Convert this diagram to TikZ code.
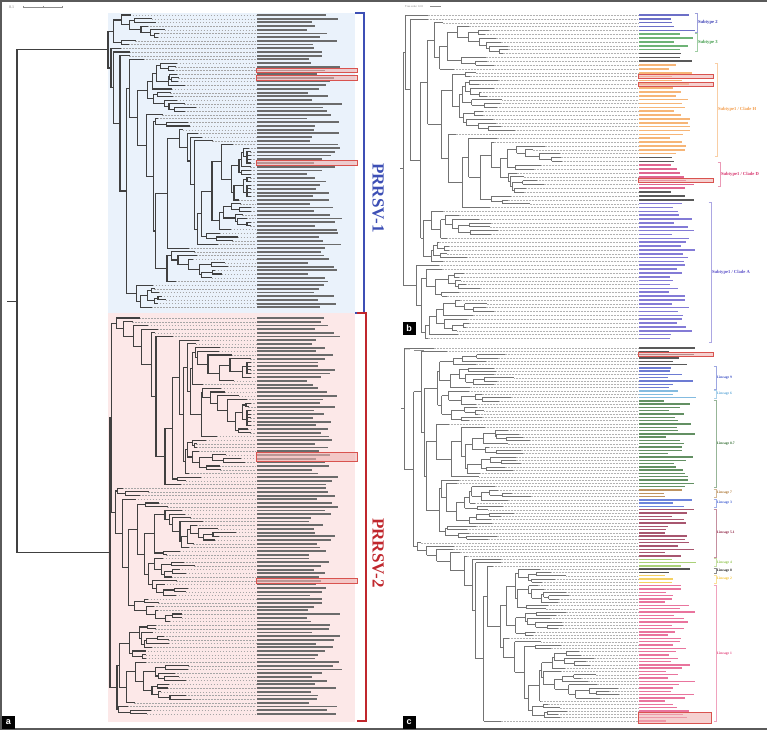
\documentclass[tikz,border=0pt]{standalone}
\usepackage{fontspec}
\setmainfont{Liberation Serif}
\setsansfont{Liberation Sans}
\usepackage{xcolor}
\definecolor{frame700}{HTML}{5A5A5A}
\definecolor{blue50}{HTML}{EAF2FB}
\definecolor{red50}{HTML}{FCE8E8}
\definecolor{prrsvone}{HTML}{3D4FB5}
\definecolor{prrsvtwo}{HTML}{C0272D}
\definecolor{hlred}{HTML}{D9534F}
\definecolor{sub2}{HTML}{3B3FB5}
\definecolor{sub3}{HTML}{3E9A48}
\definecolor{cladeH}{HTML}{F39C4A}
\definecolor{cladeD}{HTML}{D6336C}
\definecolor{cladeA}{HTML}{5A4FC8}
\definecolor{lin9}{HTML}{3B4FC4}
\definecolor{lin6}{HTML}{5AA5D6}
\definecolor{lin87}{HTML}{2F6B2F}
\definecolor{lin7}{HTML}{A8702C}
\definecolor{lin3}{HTML}{3D5BD0}
\definecolor{lin51}{HTML}{8B1E3F}
\definecolor{lin4}{HTML}{8DC24B}
\definecolor{lin8}{HTML}{1A1A1A}
\definecolor{lin2}{HTML}{F2C12E}
\definecolor{lin1}{HTML}{E2457C}
\usepackage{tikz}
\usetikzlibrary{positioning}

% random dendrogram: parent x, node x, first leaf y, last leaf y
\newcommand\treeclade[4]{%
  \begingroup
  \pgfmathtruncatemacro\stN{round((#4-#3)/\rowgap)+1}%
  \ifnum\stN<2\relax
    \draw[leader] (#2,#3) -- (\labelx,#3);
    \draw[branch] (#1,#3) -- (#2,#3);
    \xdef\stRet{#3}%
  \else
    \pgfmathsetmacro\stR{rnd}%
    \pgfmathtruncatemacro\stK{random(1,\stN-1)}%
    \ifdim\stR pt<0.35pt \def\stK{1}\fi
    \ifdim\stR pt>0.9pt \edef\stK{\the\numexpr\stN-1\relax}\fi
    \pgfmathsetmacro\stAend{#3+(\stK-1)*\rowgap}%
    \pgfmathsetmacro\stBbeg{#3+\stK*\rowgap}%
    \edef\stNext{\noexpand\treebranch{#2}{#3}{\stAend}}\stNext
    \let\stYA\stRet
    \edef\stNext{\noexpand\treebranch{#2}{\stBbeg}{#4}}\stNext
    \let\stYB\stRet
    \pgfmathsetmacro\stY{(\stYA+\stYB)/2}%
    \draw[branch] (#2,\stYA) -- (#2,\stYB);
    \draw[branch] (#1,\stY) -- (#2,\stY);
    \xdef\stRet{\stY}%
  \fi
  \endgroup}
% picks the node x, then draws the clade
\newcommand\treebranch[3]{%
  \begingroup
  \pgfmathtruncatemacro\stN{round((#3-#2)/\rowgap)+1}%
  \ifnum\stN<2\relax
    \pgfmathsetmacro\stX{min(#1+\leafmin+rnd*\leafvar,\tipmax)}%
  \else
    \pgfmathsetmacro\stX{min(#1+\nodemin+rnd*\nodevar,\tipmax-3)}%
  \fi
  \edef\stNext{\noexpand\treeclade{#1}{\stX}{#2}{#3}}\stNext
  \endgroup}
% strain names, too small to read: colour, first row, last row
\newcommand\leaflabels[3]{%
  \foreach \rw in {#2,...,#3}{%
    \pgfmathsetmacro\stLy{\rowone+\rw*\rowgap}%
    \pgfmathsetmacro\stLw{\labmin+rnd*\labvar}%
    \draw[labelbar,#1] (\labelx+1,\stLy) -- ++(\stLw,0);
  }}
% bracket with its clade name: name, colour, x, top, bottom, text
\newcommand\cladebracket[6]{%
  \draw[bracket,#2!50] (#3-2.5,#4) -- (#3,#4) -- (#3,#5) -- (#3-2.5,#5);
  \coordinate (#1-mid) at (#3,{(#4+#5)/2});
  \node[cladetext,text=#2,right=0.8pt of #1-mid] (#1) {#6};}

\begin{document}
\begin{tikzpicture}[x=1pt, y=-1pt,
    hlbox/.style={draw=hlred, line width=0.8pt, fill=hlred!45, fill opacity=0.6},
    bracket/.style={line width=0.7pt},
    scaletext/.style={font=\fontsize{4}{4}\selectfont, text=black!55, inner sep=0pt, anchor=west},
    scalebar/.style={draw=black!45, line width=0.5pt},
    panellabel/.style={fill=black, text=white, font=\sffamily\bfseries\fontsize{9}{9}\selectfont, minimum size=13pt, inner sep=0pt}
  ]
  \useasboundingbox (0,0) rectangle (767,730);
  \draw[frame700, line width=2pt] (767,1) -- (1,1) -- (1,729) -- (767,729);

  % Panel a
  \begin{scope}[branch/.style={draw=black!75, line width=1.1pt, line cap=rect},
      leader/.style={draw=black!35, line width=0.35pt, dash pattern=on 1.5pt off 1.5pt},
      labelbar/.style={line width=1.8pt}]
    \fill[blue50] (108,13) rectangle (355,313);
    \fill[red50] (108,313) rectangle (355,722);
    \node[scaletext] (sa) at (9,7) {0.1};
    \draw[scalebar] (23,7) -- (62,7);
    \foreach \tx in {23,43,62} \draw[scalebar] (\tx,5.8) -- (\tx,8.2);
    \def\rowgap{3.7}\def\labelx{256}\def\tipmax{250}
    \def\nodemin{1.5}\def\nodevar{11}\def\leafmin{2}\def\leafvar{22}
    \def\labmin{50}\def\labvar{35}
    \pgfmathsetseed{11}
    \treeclade{17}{108}{15}{307.3}\let\rootA\stRet
    \treeclade{17}{110}{318}{713.9}\let\rootB\stRet
    \pgfmathsetmacro\rootM{(\rootA+\rootB)/2}
    \draw[branch] (17,\rootA) -- (17,\rootB);
    \draw[branch] (8,\rootM) -- (17,\rootM);
    \def\rowone{15}\leaflabels{black!58}{0}{79}
    \def\rowone{318}\leaflabels{black!58}{0}{107}
    % highlighted strains
    \foreach \yy in {70.5,77.9,163,580.7}
      \draw[hlbox] (256,\yy-2.2) rectangle (357,\yy+2.2);
    \draw[hlbox] (256,452.6) rectangle (357,461);
    % genotype brackets
    \draw[prrsvone, line width=1.2pt] (355,13) -- (364,13) -- (364,313) -- (355,313);
    \draw[prrsvtwo, line width=1.2pt] (357,313) -- (366,313) -- (366,721) -- (357,721);
    \node[font=\bfseries\fontsize{17}{17}\selectfont, text=prrsvone, rotate=-90] (tone) at (378,198) {PRRSV-1};
    \node[font=\bfseries\fontsize{17}{17}\selectfont, text=prrsvtwo, rotate=-90] (ttwo) at (378,553) {PRRSV-2};
    \node[panellabel] (pa) at (8.5,722.5) {a};
  \end{scope}

  % Panel b
  \begin{scope}[branch/.style={draw=black!55, line width=0.55pt},
      leader/.style={draw=black!30, line width=0.3pt, dash pattern=on 0.5pt off 1pt},
      labelbar/.style={line width=1.6pt},
      cladetext/.style={font=\bfseries\fontsize{4.6}{5}\selectfont, inner sep=0pt}]
    \node[scaletext, font=\fontsize{2.8}{3}\selectfont] (sb) at (405,6.5) {Tree scale: 0.01};
    \draw[scalebar] (430,6.5) -- (441,6.5);
    \def\rowgap{3.85}\def\labelx{638}\def\tipmax{625}
    \def\nodemin{1.5}\def\nodevar{13}\def\leafmin{1}\def\leafvar{30}
    \def\labmin{30}\def\labvar{26}
    \pgfmathsetseed{5}
    \treeclade{400}{403}{15}{338.4}
    \def\rowone{15}
    \leaflabels{sub2!75}{0}{4}
    \leaflabels{sub3!75}{5}{9}
    \leaflabels{black!65}{10}{12}
    \leaflabels{cladeH!75}{13}{36}
    \leaflabels{black!65}{37}{38}
    \leaflabels{cladeD!75}{39}{45}
    \leaflabels{black!65}{46}{48}
    \leaflabels{cladeA!75}{49}{84}
    \foreach \yy in {76.6,84.3,180.55}
      \draw[hlbox] (638,\yy-2.2) rectangle (713,\yy+2.2);
    \cladebracket{bsub2}{sub2}{697}{13}{32}{Subtype 2}
    \cladebracket{bsub3}{sub3}{697}{33}{51}{Subtype 3}
    \cladebracket{bcladeH}{cladeH}{717}{63}{156}{Subtype1 / Clade H}
    \cladebracket{bcladeD}{cladeD}{720}{162}{186}{Subtype1 / Clade D}
    \cladebracket{bcladeA}{cladeA}{711}{202}{342}{Subtype1 / Clade A}
    \node[panellabel] (pb) at (409,328) {b};
  \end{scope}

  % Panel c
  \begin{scope}[branch/.style={draw=black!55, line width=0.55pt},
      leader/.style={draw=black!30, line width=0.3pt, dash pattern=on 0.5pt off 1pt},
      labelbar/.style={line width=1.4pt},
      cladetext/.style={font=\bfseries\fontsize{3.6}{4}\selectfont, inner sep=0pt}]
    \node[scaletext, font=\fontsize{3}{3}\selectfont] (sc) at (405,350) {0.01};
    \draw[scalebar] (414,350) -- (424,350);
    \def\rowgap{3.3}\def\labelx{638}\def\tipmax{625}
    \def\nodemin{1.5}\def\nodevar{13}\def\leafmin{1}\def\leafvar{30}
    \def\labmin{25}\def\labvar{32}
    \pgfmathsetseed{3}
    \treeclade{401}{404}{348}{720.9}
    \def\rowone{348}
    \leaflabels{black!65}{0}{5}
    \leaflabels{lin9!75}{6}{12}
    \leaflabels{lin6!75}{13}{15}
    \leaflabels{lin87!75}{16}{42}
    \leaflabels{lin7!75}{43}{45}
    \leaflabels{lin3!75}{46}{48}
    \leaflabels{lin51!75}{49}{63}
    \leaflabels{lin4!75}{64}{66}
    \leaflabels{lin8!75}{67}{68}
    \leaflabels{lin2!75}{69}{71}
    \leaflabels{lin1!75}{72}{113}
    \draw[hlbox] (638,352.4) rectangle (713,356.8);
    \draw[hlbox] (638,712) rectangle (711,723);
    \cladebracket{lnine}{lin9}{716}{366.5}{389}{Lineage 9}
    \cladebracket{lsix}{lin6}{716}{390}{398}{Lineage 6}
    \cladebracket{leightseven}{lin87}{716}{400}{487.5}{Lineage 8.7}
    \cladebracket{lseven}{lin7}{716}{489}{497}{Lineage 7}
    \cladebracket{lthree}{lin3}{716}{499}{507}{Lineage 3}
    \cladebracket{lfiveone}{lin51}{716}{509}{557}{Lineage 5.1}
    \cladebracket{lfour}{lin4}{716}{558.5}{566.5}{Lineage 4}
    \cladebracket{leight}{lin8}{716}{568.5}{573.5}{Lineage 8}
    \cladebracket{ltwo}{lin2}{716}{575}{583}{Lineage 2}
    \cladebracket{lone}{lin1}{716}{585}{721.5}{Lineage 1}
    \node[panellabel] (pc) at (409,722.5) {c};
  \end{scope}
\end{tikzpicture}
\end{document}
